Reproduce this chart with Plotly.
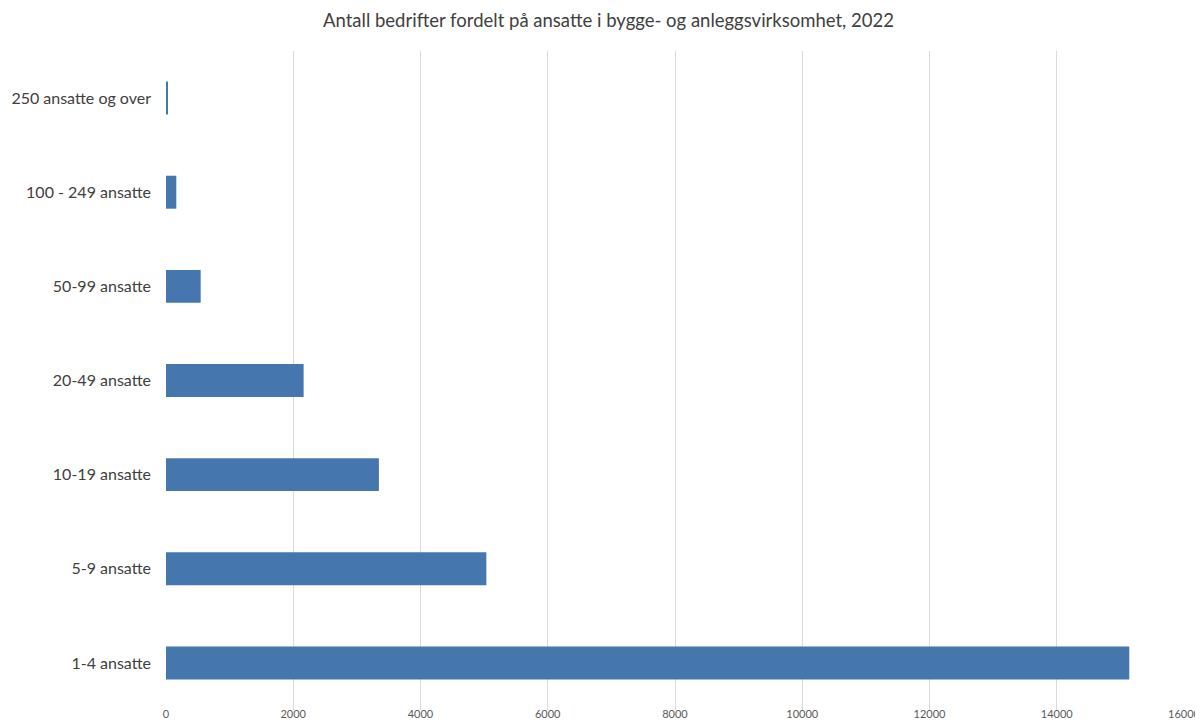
import plotly.graph_objects as go

categories = ["1-4 ansatte", "5-9 ansatte", "10-19 ansatte", "20-49 ansatte",
              "50-99 ansatte", "100 - 249 ansatte", "250 ansatte og over"]
values = [15140, 5035, 3346, 2163, 545, 162, 27]
x_ticks = [0, 2000, 4000, 6000, 8000, 10000, 12000, 14000, 16000]

fig = go.Figure(go.Bar(
    x=values, y=categories, orientation="h",
    marker=dict(color="#4676ae", line=dict(width=0)),
    hoverinfo="x+y",
))

fig.update_layout(
    width=1195, height=714,
    paper_bgcolor="white", plot_bgcolor="white",
    margin=dict(l=158, r=19, t=43, b=12),
    bargap=0.65,
    showlegend=False,
    font=dict(family="Lato, 'Open Sans', sans-serif", color="#404040"),
    title=dict(text="Antall bedrifter fordelt på ansatte i bygge- og anleggsvirksomhet, 2022",
               x=0.5025, xanchor="center", y=0.983, yanchor="middle",
               font=dict(size=18.5, color="#404040")),
    xaxis=dict(range=[0, 16000], tickvals=x_ticks, ticktext=[str(v) for v in x_ticks],
               showgrid=True, gridcolor="#d9d9d9", gridwidth=1, zeroline=False,
               showline=False, ticks="", automargin=False,
               ticklabelstandoff=-4, ticklabeloverflow="allow",
               tickfont=dict(size=11, color="#595959")),
    yaxis=dict(showgrid=False, zeroline=False, showline=False, ticks="",
               ticklabelstandoff=14, automargin=False,
               tickfont=dict(size=16, color="#404040")),
)

fig.write_html("out.html")
